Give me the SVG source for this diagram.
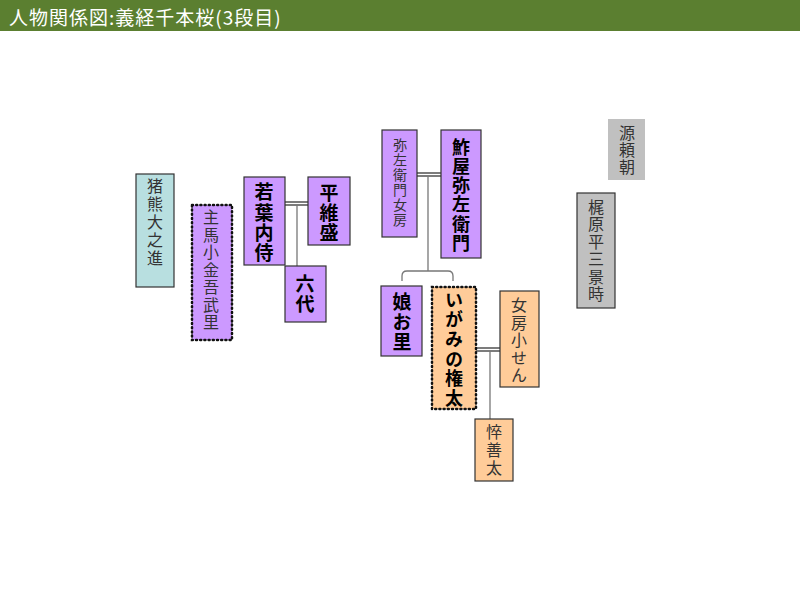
<svg xmlns="http://www.w3.org/2000/svg" width="800" height="600" viewBox="0 0 800 600">
<style>
.t{font-family:"Noto Sans CJK JP","Noto Sans",sans-serif}
.v{writing-mode:vertical-rl;text-orientation:upright;text-anchor:start;dominant-baseline:central}
.n{fill:#333;font-weight:normal}
.b{fill:#000;font-weight:bold}
.pu{fill:#cc99ff;stroke:#333;stroke-width:1.2}
.cy{fill:#b8dfe0;stroke:#333;stroke-width:1.2}
.or{fill:#ffcc99;stroke:#333;stroke-width:1.2}
.gr{fill:#c0c0c0;stroke:#333;stroke-width:1.2}
.dot{stroke:#111;stroke-width:2.5;stroke-dasharray:1 3.2;stroke-linecap:round}
.ln{stroke:#777;stroke-width:1.3;fill:none}
.dl{stroke:#444;stroke-width:1.4;fill:none}
</style>
<rect width="800" height="600" fill="#fff"/>
<g id="title">
<rect x="0" y="0" width="800" height="31" fill="#5b7f30"/>
<text x="9" y="16" class="t" style="dominant-baseline:central;fill:#fff;font-size:19px;letter-spacing:1px">人物関係図:義経千本桜(3段目)</text>
</g>
<g id="connectors">
<line class="dl" x1="284" y1="202" x2="308" y2="202"/>
<line class="dl" x1="284" y1="205" x2="308" y2="205"/>
<line class="ln" x1="297" y1="205" x2="297" y2="266"/>
<line class="dl" x1="417" y1="173" x2="441" y2="173"/>
<line class="dl" x1="417" y1="176" x2="441" y2="176"/>
<line class="ln" x1="428" y1="176" x2="428" y2="271"/>
<path class="ln" d="M402,281 L402,276 Q402,271 407,271 L448,271 Q453,271 453,276 L453,281"/>
<line class="dl" x1="476" y1="348" x2="500" y2="348"/>
<line class="dl" x1="476" y1="351" x2="500" y2="351"/>
<line class="ln" x1="490" y1="351" x2="490" y2="419"/>
</g>
<g id="n-inokuma">
<rect class="cy" x="136" y="174" width="38" height="113"/>
<text class="t v n" x="155" y="178" style="font-size:16px;letter-spacing:2px">猪熊大之進</text>
</g>
<g id="n-kingo">
<rect class="pu dot" x="192" y="205" width="40" height="135"/>
<text class="t v n" x="211" y="209" style="font-size:16px;letter-spacing:1.5px">主馬小金吾武里</text>
</g>
<g id="n-wakaba">
<rect class="pu" x="244" y="177" width="41" height="88"/>
<text class="t v b" x="264" y="182.5" style="font-size:19px;letter-spacing:1.3px">若葉内侍</text>
</g>
<g id="n-koremori">
<rect class="pu" x="308" y="177" width="42" height="68"/>
<text class="t v b" x="329" y="183.5" style="font-size:19px;letter-spacing:1px">平維盛</text>
</g>
<g id="n-rokudai">
<rect class="pu" x="285" y="266" width="41" height="56"/>
<text class="t v b" x="305" y="274.5" style="font-size:19px;letter-spacing:1px">六代</text>
</g>
<g id="n-nyobo">
<rect class="pu" x="382" y="130" width="35" height="107"/>
<text class="t v n" x="400" y="138" style="font-size:14px;letter-spacing:1px">弥左衛門女房</text>
</g>
<g id="n-yazaemon">
<rect class="pu" x="441" y="130" width="40" height="128"/>
<text class="t v b" x="461" y="138" style="font-size:18px;letter-spacing:1.2px">鮓屋弥左衛門</text>
</g>
<g id="n-osato">
<rect class="pu" x="381" y="286" width="41" height="70"/>
<text class="t v b" x="402" y="292.5" style="font-size:19px;letter-spacing:1px">娘お里</text>
</g>
<g id="n-gonta">
<rect class="or dot" x="432" y="287" width="44" height="122"/>
<text class="t v b" x="454" y="291" style="font-size:18px;letter-spacing:1.6px">いがみの権太</text>
</g>
<g id="n-kosen">
<rect class="or" x="500" y="291" width="39" height="96"/>
<text class="t v n" x="519" y="297" style="font-size:16px;letter-spacing:1.5px">女房小せん</text>
</g>
<g id="n-zenta">
<rect class="or" x="475" y="419" width="38" height="62"/>
<text class="t v n" x="494" y="424" style="font-size:16px;letter-spacing:2px">悴善太</text>
</g>
<g id="n-yoritomo">
<rect x="608" y="119" width="37" height="61" fill="#c0c0c0"/>
<text class="t v n" x="627" y="125" style="font-size:16px;letter-spacing:1px">源頼朝</text>
</g>
<g id="n-kagetoki">
<rect class="gr" x="577" y="193" width="38" height="115"/>
<text class="t v n" x="596" y="199" style="font-size:16px;letter-spacing:1.4px">梶原平三景時</text>
</g>
</svg>
